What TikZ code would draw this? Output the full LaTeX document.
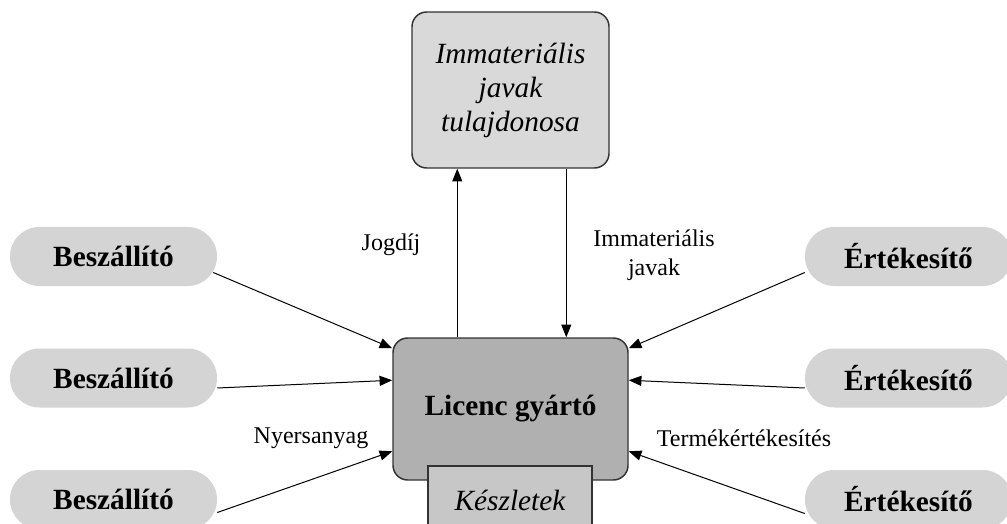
\documentclass[tikz,border=0pt]{standalone}
\usepackage{fontspec}
\setmainfont{Liberation Serif}
\usepackage{tikz}
\usetikzlibrary{arrows.meta,calc}
\definecolor{boxline}{RGB}{51,51,51}
\tikzset{
  owner/.style={draw=boxline, line width=1.1pt, fill=black!15, rounded corners=11pt,
    minimum width=147.75pt, minimum height=117pt, inner sep=0pt, align=center,
    font=\fontsize{22}{25.5}\selectfont\itshape},
  maker/.style={draw=boxline, line width=1.1pt, fill=black!31, rounded corners=11pt,
    minimum width=176.25pt, minimum height=106.5pt, inner sep=0pt,
    font=\fontsize{22}{26}\selectfont\bfseries},
  stock/.style={draw=boxline, line width=0.9pt, fill=black!22,
    minimum width=123pt, minimum height=51pt, inner sep=0pt,
    font=\fontsize{22}{26}\selectfont\itshape},
  pill/.style={fill=black!17, rounded corners=22pt,
    minimum width=155.25pt, minimum height=44.25pt, inner sep=0pt,
    font=\fontsize{22}{26}\selectfont\bfseries},
  flow/.style={line width=0.75pt, -{Triangle[length=9.5pt,width=7.5pt]}},
  flowlabel/.style={align=center, inner sep=0pt, font=\fontsize{18}{21.5}\selectfont}
}
\begin{document}
\begin{tikzpicture}[x=0.75pt, y=-0.75pt]
  \clip (0,0) rectangle (1007,524);
  % owner of the intangible goods
  \node[owner] (imm) at (510.5,90) {Immateriális\\javak\\tulajdonosa};
  % licence maker with its stock
  \node[maker] (lic) at (510.5,409) {Licenc gyártó};
  \node[stock] (kesz) at (510,500) {Készletek};
  % suppliers (left) and sellers (right)
  \foreach \i/\y in {1/256.5, 2/378, 3/499.5}{
    \node[pill] (bes\i) at (113.5,\y) {Beszállító};
    \node[pill] (ert\i) at (908.5,\y) {Értékesítő};
  }
  % royalty up, intangible goods down
  \coordinate (up) at ($(lic.north west)+(65,0)$);
  \coordinate (down) at ($(lic.north west)+(174,0)$);
  \draw[flow] (up) -- (up |- imm.south);
  \draw[flow] (down |- imm.south) -- (down);
  % inflows from the sides
  \draw[flow] ($(bes1.east)+(-4,16)$) -- ($(lic.north west)+(0,11)$);
  \draw[flow] ($(bes2.east)+(0,10)$) -- ($(lic.north west)+(0,43)$);
  \draw[flow] ($(bes3.east)+(0,13)$) -- ($(lic.north west)+(0,114)$);
  \draw[flow] ($(ert1.west)+(0,16)$) -- ($(lic.north east)+(0,11)$);
  \draw[flow] ($(ert2.west)+(0,10)$) -- ($(lic.north east)+(0,43)$);
  \draw[flow] ($(ert3.west)+(0,14)$) -- ($(lic.north east)+(0,114)$);
  % labels
  \node[flowlabel] (jog) at (391,245) {Jogdíj};
  \node[flowlabel] (immj) at (654,255) {Immateriális\\javak};
  \node[flowlabel] (nyers) at (311,438) {Nyersanyag};
  \node[flowlabel] (term) at (744,438) {Termékértékesítés};
\end{tikzpicture}
\end{document}
